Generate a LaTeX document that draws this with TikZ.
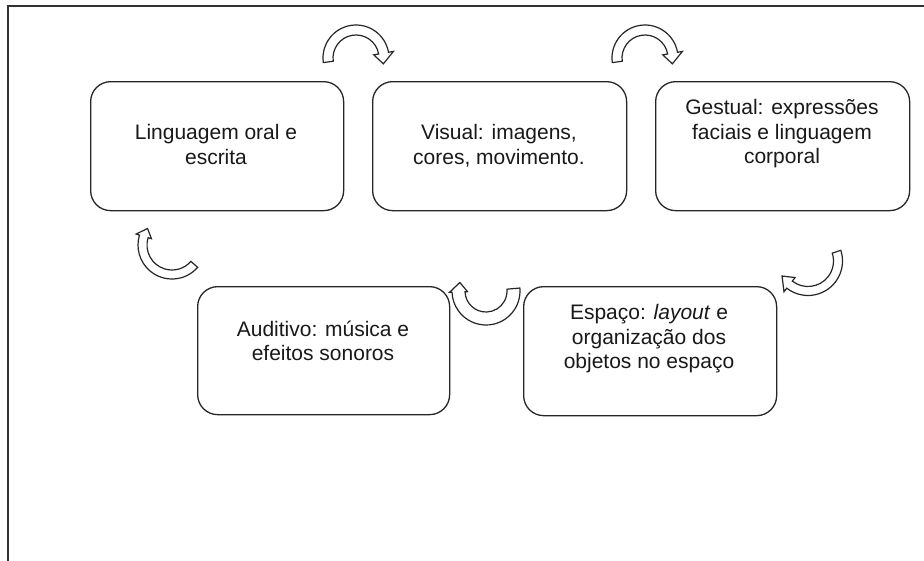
\documentclass[tikz,border=0pt]{standalone}
\usepackage{fontspec}
\setmainfont{Liberation Sans}
\tikzset{
  boxshape/.style={draw=black!85, line width=1.3pt, rounded corners=20pt, fill=white},
  boxtext/.style={align=center, anchor=north, inner sep=0pt, text=black!90, font=\fontsize{21}{24.5}\selectfont},
  arrowshape/.style={draw=black!85, line width=1.2pt, fill=white, line join=miter},
}
% #1 centre, #2 tail angle, #3 body end angle, #4 tip angle, #5 mid radius, #6 half band, #7 half head
\newcommand\bendarrow[7]{%
  \begin{scope}[shift={#1},yscale=-1]
    \draw[arrowshape] (#2:{#5+#6}) arc[start angle=#2,end angle=#3,radius={#5+#6}]
      -- (#3:{#5+#7}) -- (#4:#5) -- (#3:{#5-#7}) -- (#3:{#5-#6})
      arc[start angle=#3,end angle=#2,radius={#5-#6}] -- cycle;
  \end{scope}}
\begin{document}
\begin{tikzpicture}[x=1pt,y=-1pt]
\useasboundingbox (0,0) rectangle (924,560);
% frame
\draw[black!80, line width=2pt] (8,565) -- (8,6) -- (930,6);
% boxes
\node[boxshape, minimum width=253pt, minimum height=129pt, anchor=north west] (b1) at (90,81) {};
\node[boxshape, minimum width=254pt, minimum height=129pt, anchor=north west] (b2) at (372,81) {};
\node[boxshape, minimum width=254pt, minimum height=129pt, anchor=north west] (b3) at (655,81) {};
\node[boxshape, minimum width=252pt, minimum height=128pt, anchor=north west] (b4) at (197,286) {};
\node[boxshape, minimum width=253pt, minimum height=129pt, anchor=north west] (b5) at (523,286) {};
% texts
\node[boxtext] (t1) at (216,124.5) {Linguagem oral e\\escrita};
\node[boxtext] (t2) at (499,124.5) {Visual: imagens,\\cores, movimento.};
\node[boxtext] (t3) at (782,99.5) {Gestual: expressões\\faciais e linguagem\\corporal};
\node[boxtext] (t4) at (323,320.5) {Auditivo: música e\\efeitos sonoros};
\node[boxtext] (t5) at (649,304.5) {Espaço: \textit{layout} e\\organização dos\\objetos no espaço};
% curved block arrows
\bendarrow{(356,58)}{188}{10}{-12}{28}{5}{10}
\bendarrow{(645,58)}{188}{10}{-12}{28}{5}{10}
\bendarrow{(808,261)}{18}{-128}{-150}{30}{4.5}{9}
\bendarrow{(486,291)}{5}{-178}{-198}{27.5}{6.5}{9}
\bendarrow{(172,245)}{-41}{-197}{-214}{29.5}{4.5}{8}
\end{tikzpicture}
\end{document}
